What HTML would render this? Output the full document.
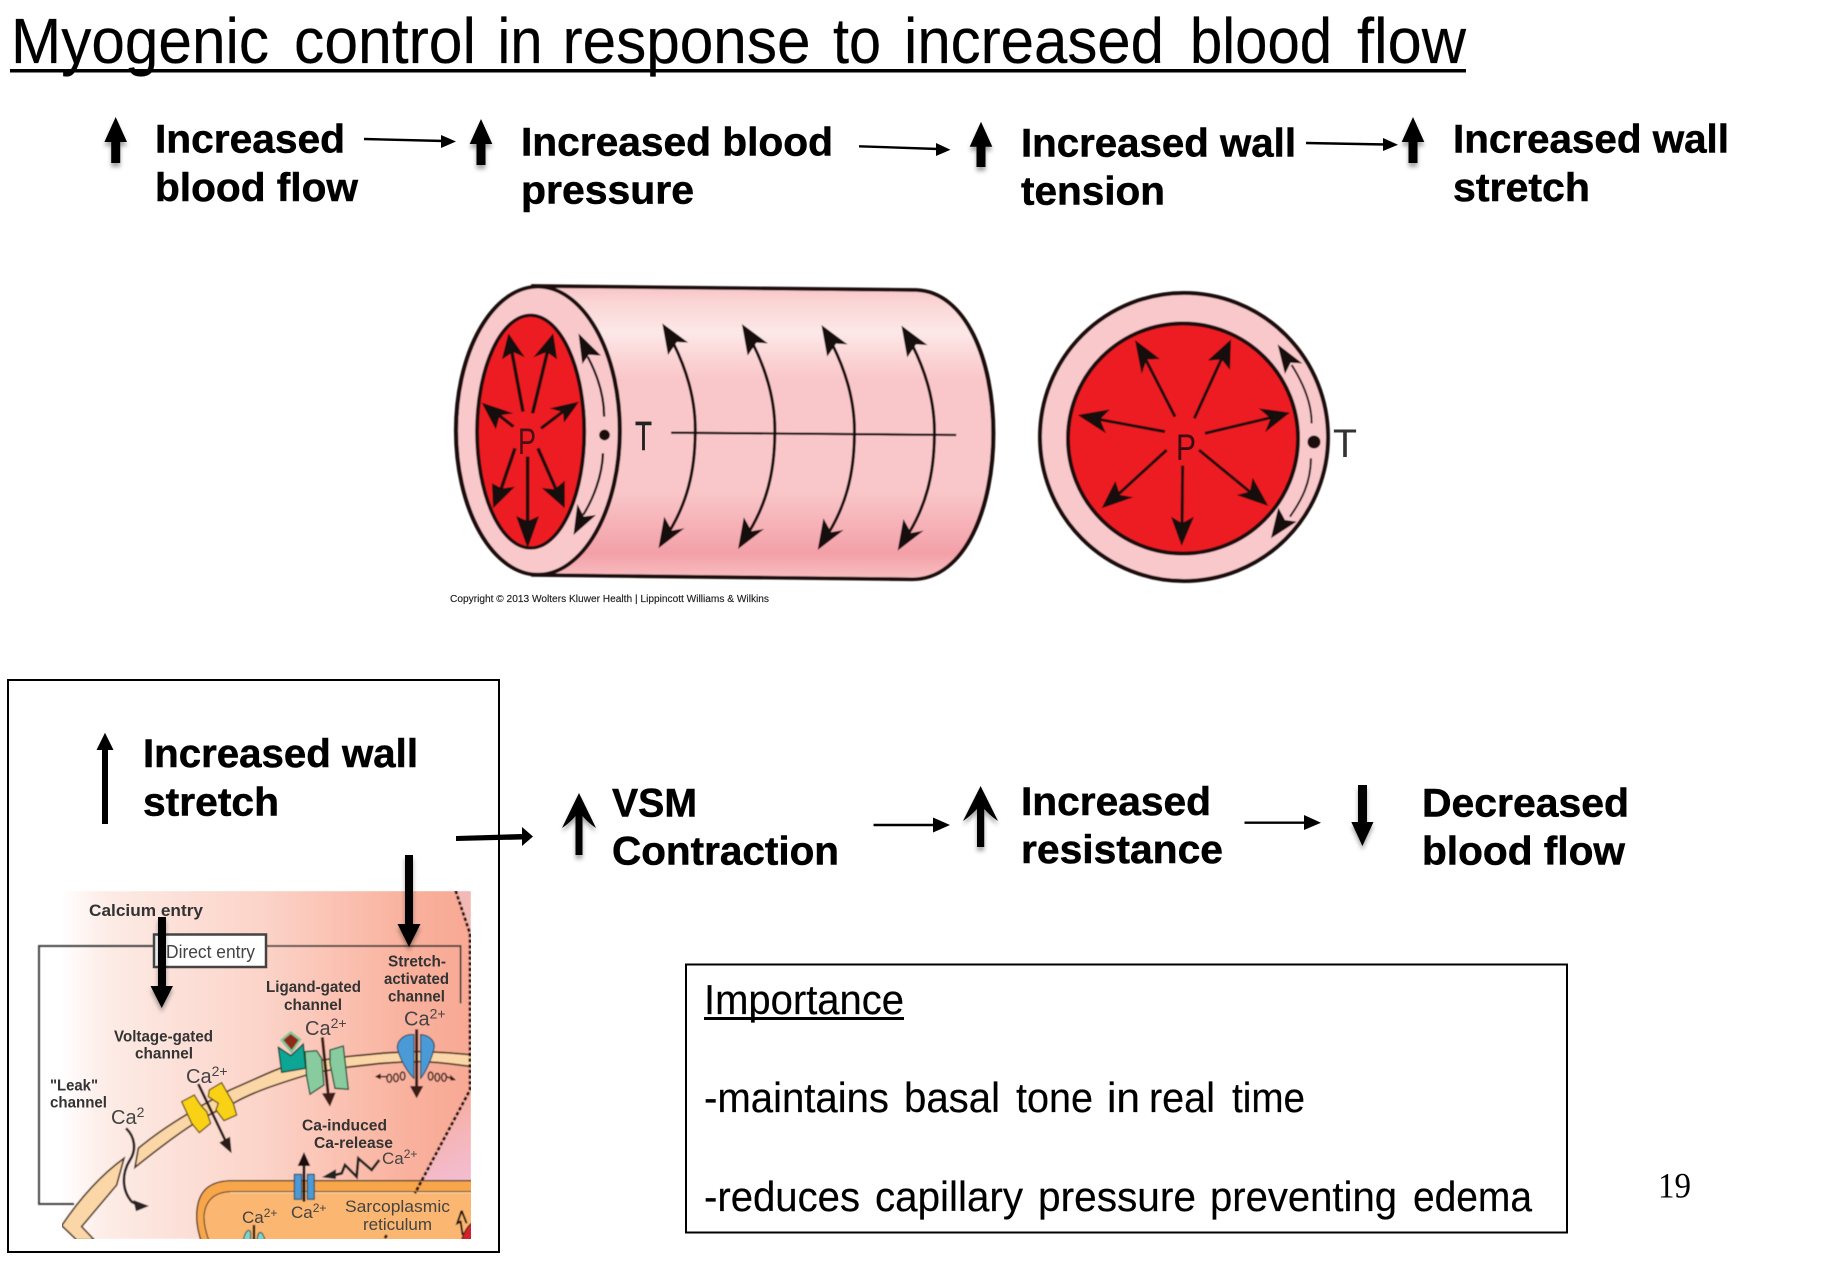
<!DOCTYPE html>
<html><head><meta charset="utf-8"><title>Myogenic control</title>
<style>
html,body{margin:0;padding:0;background:#fff;width:1822px;height:1265px;overflow:hidden}
svg{display:block}
text{font-family:"Liberation Sans",sans-serif;fill:#000}
.b{font-weight:bold;font-size:40px;stroke:#000;stroke-width:.5px}
.r{font-size:42px;stroke:#000;stroke-width:.2px}
.l{font-weight:bold;font-size:15.5px;fill:#333}
.c{font-size:20px;fill:#444}
.s{font-size:14px;fill:#444}
</style></head><body>
<svg width="1822" height="1265" viewBox="0 0 1822 1265" xmlns="http://www.w3.org/2000/svg">
<defs>
<filter id="sh" x="-60%" y="-20%" width="220%" height="150%"><feDropShadow dx="0" dy="4" stdDeviation="2" flood-color="#000" flood-opacity=".35"/></filter>
<filter id="bl" x="-5%" y="-5%" width="110%" height="110%"><feGaussianBlur stdDeviation=".55"/></filter>
<linearGradient id="bodyg" gradientUnits="userSpaceOnUse" x1="0" y1="78" x2="0" y2="958">
<stop offset="0" stop-color="#f8c4c6"/><stop offset=".06" stop-color="#fbd6d6"/><stop offset=".16" stop-color="#fde8e8"/><stop offset=".27" stop-color="#fbcfd0"/><stop offset=".32" stop-color="#f9c7c9"/><stop offset=".7" stop-color="#f9c7c9"/><stop offset=".91" stop-color="#f3a0a8"/><stop offset="1" stop-color="#f8bfc2"/>
</linearGradient>
<linearGradient id="cellg" gradientUnits="userSpaceOnUse" x1="60" y1="0" x2="470" y2="0">
<stop offset="0" stop-color="#fff"/><stop offset=".12" stop-color="#fdebe5"/><stop offset=".5" stop-color="#fcd3c8"/><stop offset=".85" stop-color="#f9b19d"/><stop offset="1" stop-color="#f8a995"/>
</linearGradient>
<linearGradient id="pinkg" gradientUnits="userSpaceOnUse" x1="1300" y1="430" x2="1400" y2="640">
<stop offset="0" stop-color="#f8aa9a"/><stop offset=".5" stop-color="#f5b5b8"/><stop offset="1" stop-color="#f3bccf"/>
</linearGradient>
<clipPath id="cellclip"><rect x="62" y="891" width="409" height="348"/></clipPath>
</defs>
<rect width="1822" height="1265" fill="#fff"/>

<!-- Title -->
<g font-size="64" transform="translate(0,1)" stroke="#000" stroke-width=".2">
<text x="11" y="62" textLength="258" lengthAdjust="spacingAndGlyphs">Myogenic</text>
<text x="294" y="62" textLength="182" lengthAdjust="spacingAndGlyphs">control</text>
<text x="497.5" y="62" textLength="45" lengthAdjust="spacingAndGlyphs">in</text>
<text x="562.5" y="62" textLength="248" lengthAdjust="spacingAndGlyphs">response</text>
<text x="833" y="62" textLength="48" lengthAdjust="spacingAndGlyphs">to</text>
<text x="904" y="62" textLength="260" lengthAdjust="spacingAndGlyphs">increased</text>
<text x="1190" y="62" textLength="142" lengthAdjust="spacingAndGlyphs">blood</text>
<text x="1357" y="62" textLength="109" lengthAdjust="spacingAndGlyphs">flow</text>
</g>
<rect x="10" y="69" width="1456" height="3.5" fill="#000"/>

<!-- Top row text -->
<text class="b" x="155" y="152.7" textLength="190" lengthAdjust="spacingAndGlyphs">Increased</text>
<text class="b" x="155" y="201" textLength="203" lengthAdjust="spacingAndGlyphs">blood flow</text>
<text class="b" x="521" y="155.3" textLength="312" lengthAdjust="spacingAndGlyphs">Increased blood</text>
<text class="b" x="521" y="203.7" textLength="173" lengthAdjust="spacingAndGlyphs">pressure</text>
<text class="b" x="1021" y="156.7" textLength="275" lengthAdjust="spacingAndGlyphs">Increased wall</text>
<text class="b" x="1021" y="204.3" textLength="144" lengthAdjust="spacingAndGlyphs">tension</text>
<text class="b" x="1453" y="152.7" textLength="276" lengthAdjust="spacingAndGlyphs">Increased wall</text>
<text class="b" x="1453" y="201" textLength="137" lengthAdjust="spacingAndGlyphs">stretch</text>

<!-- Top row arrows -->
<g fill="#000" filter="url(#sh)">
<path d="M115.7 117L127 142H120.2V163H111.2V142H104.4Z"/>
<path d="M481 119L492.3 144H485.5V165H476.5V144H469.7Z"/>
<path d="M981 121.7L992.3 146.7H985.5V167H976.5V146.7H969.7Z"/>
<path d="M1413 117L1424.3 142H1417.5V163H1408.5V142H1401.7Z"/>
</g>
<g stroke="#000" stroke-width="2.4" fill="#000">
<line x1="364" y1="139" x2="444" y2="141"/><path d="M456 141.5L441 135V148Z" stroke="none"/>
<line x1="859" y1="146.3" x2="938" y2="149"/><path d="M950.5 149.7L936 143V156Z" stroke="none"/>
<line x1="1306" y1="143" x2="1386" y2="144.5"/><path d="M1398 144.7L1383 138V151Z" stroke="none"/>
</g>

<!-- Cylinder -->
<g filter="url(#bl)">
<g transform="translate(430,260) scale(.3827,.3333)">
<path d="M270 78L1270 90C1400 95 1472 300 1472 520C1472 740 1400 958 1260 958L270 945Z" fill="url(#bodyg)" stroke="#1a1010" stroke-width="11"/>
<line x1="630" y1="518" x2="1375" y2="525" stroke="#1a1010" stroke-width="7"/>
<g id="ca" fill="none" stroke="#1a1010" stroke-width="8">
<path d="M636 250C675 340 695 430 693 520C692 640 670 730 625 815"/>
<path d="M607 190L675 248L645 246L622 285Z" fill="#140707" stroke="none"/>
<path d="M597 865L665 805L632 812L612 770Z" fill="#140707" stroke="none"/>
</g>
<use href="#ca" transform="translate(208,2)"/>
<use href="#ca" transform="translate(416,5)"/>
<use href="#ca" transform="translate(625,7)"/>
<ellipse cx="282" cy="512" rx="214" ry="432" fill="#f9c8cb" stroke="#1a1010" stroke-width="11"/>
<ellipse cx="263" cy="515" rx="140" ry="349" fill="#ed1c24" stroke="#1a1010" stroke-width="10"/>
<g fill="none" stroke="#140707" stroke-width="9">
<path d="M243 455L213 270"/><path d="M188 298L205 220L248 292L217 276Z" fill="#140707" stroke="none"/>
<path d="M268 460L308 270"/><path d="M270 292L322 220L332 298L305 276Z" fill="#140707" stroke="none"/>
<path d="M290 505L355 448"/><path d="M312 445L390 425L350 488L348 456Z" fill="#140707" stroke="none"/>
<path d="M218 500L165 452"/><path d="M135 428L218 460L182 466L172 508Z" fill="#140707" stroke="none"/>
<path d="M222 565L185 690"/><path d="M165 745L162 670L188 686L222 680Z" fill="#140707" stroke="none"/>
<path d="M255 590L255 810"/><path d="M255 865L225 768L255 784L285 768Z" fill="#140707" stroke="none"/>
<path d="M282 565L330 690"/><path d="M352 745L292 684L326 688L352 662Z" fill="#140707" stroke="none"/>
<path d="M412 290C435 340 455 400 455 470M452 580C450 650 425 720 400 765" stroke-width="6"/>
<path d="M388 220L447 287L415 284L398 312Z" fill="#140707" stroke="none"/>
<path d="M375 825L434 765L402 770L385 732Z" fill="#140707" stroke="none"/>
</g>
<ellipse cx="456" cy="525" rx="14" ry="16" fill="#1a1010"/>
</g>
</g>
<text x="518" y="454" font-size="37" style="fill:#4a1015" textLength="18" lengthAdjust="spacingAndGlyphs">P</text>
<text x="635" y="450" font-size="41" style="fill:#222;stroke:#222;stroke-width:.5px" textLength="17" lengthAdjust="spacingAndGlyphs">T</text>
<text x="450" y="602" font-size="10" style="fill:#222;stroke:#222;stroke-width:.15px" textLength="319" lengthAdjust="spacingAndGlyphs">Copyright © 2013 Wolters Kluwer Health | Lippincott Williams &amp; Wilkins</text>

<!-- Circle -->
<g filter="url(#bl)">
<circle cx="1184" cy="437" r="144" fill="#f9c8cb" stroke="#1a1010" stroke-width="4"/>
<circle cx="1183" cy="438.5" r="115" fill="#ed1c24" stroke="#1a1010" stroke-width="4"/>
<g transform="translate(1000,260) scale(.3333)" stroke="#140707" stroke-width="9" fill="#140707">
<line x1="525" y1="470" x2="430" y2="285"/><path d="M405 240L480 297L440 298L425 342Z" stroke="none"/>
<line x1="583" y1="475" x2="670" y2="285"/><path d="M693 238L690 330L665 298L623 302Z" stroke="none"/>
<line x1="615" y1="520" x2="825" y2="470"/><path d="M870 458L795 517L812 475L776 445Z" stroke="none"/>
<line x1="495" y1="515" x2="280" y2="475"/><path d="M233 465L330 448L300 478L318 520Z" stroke="none"/>
<line x1="500" y1="570" x2="345" y2="712"/><path d="M305 745L346 663L360 705L400 712Z" stroke="none"/>
<line x1="548" y1="617" x2="546" y2="810"/><path d="M545 858L513 770L546 790L582 770Z" stroke="none"/>
<line x1="597" y1="570" x2="765" y2="708"/><path d="M805 738L710 705L750 695L758 653Z" stroke="none"/>
<path d="M875 315C910 370 935 430 935 490M933 595C932 670 905 720 870 770" fill="none" stroke-width="6"/>
<path d="M833 253L907 310L872 308L855 342Z" stroke="none"/>
<path d="M813 835L890 785L855 780L835 743Z" stroke="none"/>
</g>
<circle cx="1314" cy="442" r="6.5" fill="#1a1010"/>
</g>
<text x="1176" y="460" font-size="37" style="fill:#3a0a10" textLength="20" lengthAdjust="spacingAndGlyphs">P</text>
<text x="1333" y="457" font-size="40" style="fill:#333" textLength="24" lengthAdjust="spacingAndGlyphs">T</text>

<!-- Lower-left box -->
<rect x="8" y="680" width="491" height="572" fill="none" stroke="#000" stroke-width="2"/>
<path d="M105 732.7L113.5 750H108V824H102V750H96.5Z" fill="#000"/>
<text class="b" x="143" y="767" textLength="275" lengthAdjust="spacingAndGlyphs">Increased wall</text>
<text class="b" x="143" y="815.7" textLength="136" lengthAdjust="spacingAndGlyphs">stretch</text>

<!-- Cell illustration -->
<g clip-path="url(#cellclip)">
<g filter="url(#bl)">
<rect x="62" y="891" width="409" height="348" fill="url(#cellg)"/>
<path d="M456 891L471 891V933Z" fill="#f3b9b5"/>
<g transform="translate(0,960) scale(.3333)">
<path d="M1245 700L1412 390V700Z" fill="url(#pinkg)"/>
<!-- membrane -->
<path d="M415 565C480 510 560 460 690 390C760 360 800 340 840 325C920 305 1000 295 1040 290C1120 282 1180 275 1260 275C1320 275 1370 280 1420 285V320C1370 315 1320 305 1260 305C1180 305 1120 312 1040 322C1000 328 960 335 920 345C840 370 760 395 700 430C620 465 570 490 405 622Z" fill="#fbd6a6" stroke="#4a3020" stroke-width="5"/>
<path d="M372 595C310 640 250 700 185 797L230 840H283L245 800L350 675Z" fill="#fbd6a6" stroke="#4a3020" stroke-width="5"/>
<!-- Yellow channel -->
<path d="M545 425L583 405L595 425L606 440L620 455L632 490L598 518L575 490Z" fill="#f9d215" stroke="#6a5210" stroke-width="4"/>
<path d="M628 390L665 368L700 430L710 465L672 482L648 450L655 430L625 410Z" fill="#f9d215" stroke="#6a5210" stroke-width="4"/>
<line x1="595" y1="372" x2="685" y2="560" stroke="#2a1a14" stroke-width="8"/>
<path d="M695 580L658 548L690 530Z" fill="#2a1a14"/>
<!-- Ligand -->
<path d="M835 262L873 287L910 252L917 325L845 337Z" fill="#10a594" stroke="#153f38" stroke-width="4"/>
<path d="M872 213L905 238L875 282L840 240Z" fill="#86c59a"/>
<path d="M872 222L896 240L875 270L850 240Z" fill="#8c2a18"/>
<path d="M915 275L950 272L965 295L972 375L930 403L920 350Z" fill="#87cb9e" stroke="#1f4d35" stroke-width="4"/>
<path d="M990 270L1030 258L1045 388L1005 385L990 310Z" fill="#87cb9e" stroke="#1f4d35" stroke-width="4"/>
<line x1="967" y1="232" x2="985" y2="405" stroke="#3a1c14" stroke-width="9"/>
<path d="M990 440L966 400L1007 398Z" fill="#3a1c14"/>
<!-- Blue stretch channel -->
<path d="M1242 224C1210 220 1190 245 1192 265C1200 300 1225 340 1242 355Z" fill="#4a9ad6" stroke="#1e3a50" stroke-width="3"/>
<path d="M1262 224C1290 225 1305 245 1303 262C1295 300 1275 340 1262 355Z" fill="#4a9ad6" stroke="#1e3a50" stroke-width="3"/>
<line x1="1250" y1="208" x2="1250" y2="385" stroke="#3a1c14" stroke-width="9"/>
<path d="M1250 415L1230 378L1270 378Z" fill="#3a1c14"/>
<g fill="none" stroke="#3a1c14" stroke-width="4.5">
<path d="M1130 350H1160"/><ellipse cx="1168" cy="355" rx="7" ry="12"/><ellipse cx="1188" cy="353" rx="7" ry="12"/><ellipse cx="1208" cy="348" rx="7" ry="12"/>
<ellipse cx="1292" cy="348" rx="7" ry="12"/><ellipse cx="1312" cy="352" rx="7" ry="12"/><ellipse cx="1332" cy="352" rx="7" ry="12"/><path d="M1340 350L1365 360"/>
</g>
<path d="M1125 350L1142 340V358ZM1368 360L1350 344L1352 362Z" fill="#3a1c14"/>
<!-- Leak arrow -->
<path d="M378 505C405 530 410 570 390 600C365 640 365 690 395 725L420 738" fill="none" stroke="#2a2020" stroke-width="8"/>
<path d="M447 738L400 720L408 754Z" fill="#2a2020"/>
<!-- SR -->
<path d="M1420 662H690C620 665 590 700 590 770C590 800 598 825 605 850H1420Z" fill="#f7a64a" stroke="#3a2a20" stroke-width="4"/>
<path d="M1420 695H690C640 697 615 725 612 770C612 800 620 825 630 850H1420Z" fill="#fbb771" stroke="#3a2a20" stroke-width="3"/>
<path d="M1420 698H690" stroke="#fff" stroke-width="3" opacity=".5"/>
<rect x="883" y="643" width="22" height="75" fill="#4a9ad6" stroke="#1e3a50" stroke-width="3"/>
<rect x="922" y="643" width="21" height="75" fill="#4a9ad6" stroke="#1e3a50" stroke-width="3"/>
<line x1="912" y1="725" x2="912" y2="610" stroke="#1a1010" stroke-width="8"/>
<path d="M912 576L893 618H931Z" fill="#1a1010"/>
<path d="M1138 600L1115 630L1075 595L1070 650L1035 615L1025 640L985 650" fill="none" stroke="#222" stroke-width="8"/>
<path d="M966 652L1008 628L1008 657Z" fill="#222"/>
<!-- bottom teal -->
<path d="M730 840C735 815 745 805 752 815V840ZM772 840C772 815 785 805 795 840Z" fill="#7fd4c8" stroke="#1e3a38" stroke-width="3"/>
<line x1="762" y1="795" x2="762" y2="840" stroke="#1a1010" stroke-width="7"/>
<!-- red -->
<path d="M1420 785C1400 800 1390 820 1385 840H1420Z" fill="#d0202a" stroke="#2a1010" stroke-width="3"/>
<path d="M1385 752L1372 790L1382 785L1388 825M1385 752L1400 790" fill="none" stroke="#1a1010" stroke-width="6"/>
<!-- dotted -->
<path d="M1367 -208L1410 -80V390L1245 700M1160 825L1150 845" fill="none" stroke="#241010" stroke-width="8.5" stroke-dasharray="11 6"/>
<!-- right frame -->
<path d="M797 -42H1382V130" fill="none" stroke="#333" stroke-width="5"/>
</g>
</g>
</g>
<!-- left frame, extends outside the gradient -->
<g filter="url(#bl)">
<path d="M154 946H39V1204H74" fill="none" stroke="#444" stroke-width="2"/>
</g>
<rect x="154" y="934.5" width="112" height="32.5" fill="#fff" stroke="#444" stroke-width="2.5"/>
<text x="166" y="958" font-size="18" style="fill:#444" textLength="89" lengthAdjust="spacingAndGlyphs">Direct entry</text>
<text class="l" x="89" y="916" style="font-size:17px" textLength="114" lengthAdjust="spacingAndGlyphs">Calcium entry</text>
<text class="l" x="388" y="966.7" textLength="58" lengthAdjust="spacingAndGlyphs">Stretch-</text>
<text class="l" x="384" y="984" textLength="65" lengthAdjust="spacingAndGlyphs">activated</text>
<text class="l" x="388" y="1001.7" textLength="57" lengthAdjust="spacingAndGlyphs">channel</text>
<text class="l" x="266" y="992" textLength="95" lengthAdjust="spacingAndGlyphs">Ligand-gated</text>
<text class="l" x="284" y="1010" textLength="58" lengthAdjust="spacingAndGlyphs">channel</text>
<text class="l" x="114" y="1041.7" textLength="99" lengthAdjust="spacingAndGlyphs">Voltage-gated</text>
<text class="l" x="135" y="1058.7" textLength="58" lengthAdjust="spacingAndGlyphs">channel</text>
<text class="l" x="50" y="1090.7" textLength="48" lengthAdjust="spacingAndGlyphs">"Leak"</text>
<text class="l" x="50" y="1107.7" textLength="57" lengthAdjust="spacingAndGlyphs">channel</text>
<text class="l" x="302" y="1130.7" textLength="85" lengthAdjust="spacingAndGlyphs">Ca-induced</text>
<text class="l" x="314" y="1148" textLength="79" lengthAdjust="spacingAndGlyphs">Ca-release</text>
<text class="c" x="111" y="1124">Ca<tspan class="s" dy="-7">2</tspan></text>
<text class="c" x="186" y="1083">Ca<tspan class="s" dy="-7">2+</tspan></text>
<text class="c" x="305" y="1035">Ca<tspan class="s" dy="-7">2+</tspan></text>
<text class="c" x="404" y="1025.7">Ca<tspan class="s" dy="-7">2+</tspan></text>
<text x="382" y="1164" font-size="17" style="fill:#444">Ca<tspan class="s" dy="-6" style="font-size:12px">2+</tspan></text>
<text x="242" y="1223" font-size="17" style="fill:#444">Ca<tspan class="s" dy="-6" style="font-size:12px">2+</tspan></text>
<text x="291" y="1218" font-size="17" style="fill:#444">Ca<tspan class="s" dy="-6" style="font-size:12px">2+</tspan></text>
<text x="345" y="1212" font-size="17" style="fill:#444" textLength="105" lengthAdjust="spacingAndGlyphs">Sarcoplasmic</text>
<text x="363" y="1230" font-size="17" style="fill:#444" textLength="69" lengthAdjust="spacingAndGlyphs">reticulum</text>

<!-- thick arrows over image -->
<g fill="#000" filter="url(#sh)">
<path d="M405 855H413V924H420.5L409 947L397.5 924H405Z"/>
<path d="M158 917H166V986H173L161.7 1008L150.5 986H158Z"/>
</g>
<path d="M456 836L522 834V827L533 836.5L522 846V839.5L456 841Z" fill="#000"/>

<!-- Second-row chain -->
<g fill="#000" filter="url(#sh)">
<path d="M579 793L596 828C590 824 586 820 582.5 816V855H575.5V816C572 820 568 824 562 828Z"/>
<path d="M980.6 786L998 821C992 817 988 813 984.2 809V847H977V809C973 813 969 817 963 821Z"/>
<path d="M1358 785H1367V822H1373.5L1362.4 846L1351.3 822H1358Z"/>
</g>
<g stroke="#000" stroke-width="2.4" fill="#000">
<line x1="873.5" y1="825" x2="938" y2="825"/><path d="M950 825L933 817.5V832.5Z" stroke="none"/>
<line x1="1244.5" y1="822.7" x2="1308" y2="822.7"/><path d="M1321 822.7L1304 815V830Z" stroke="none"/>
</g>
<text class="b" x="612" y="816.7" textLength="85" lengthAdjust="spacingAndGlyphs">VSM</text>
<text class="b" x="612" y="864.3" textLength="227" lengthAdjust="spacingAndGlyphs">Contraction</text>
<text class="b" x="1021" y="815" textLength="190" lengthAdjust="spacingAndGlyphs">Increased</text>
<text class="b" x="1021" y="863" textLength="202" lengthAdjust="spacingAndGlyphs">resistance</text>
<text class="b" x="1422" y="816.7" textLength="207" lengthAdjust="spacingAndGlyphs">Decreased</text>
<text class="b" x="1422" y="864.3" textLength="203" lengthAdjust="spacingAndGlyphs">blood flow</text>

<!-- Importance box -->
<rect x="686" y="964.5" width="881" height="268" fill="none" stroke="#000" stroke-width="2"/>
<text class="r" x="704" y="1014" textLength="200" lengthAdjust="spacingAndGlyphs">Importance</text>
<rect x="704" y="1017" width="200" height="3" fill="#000"/>
<g>
<text class="r" x="704" y="1112" textLength="185" lengthAdjust="spacingAndGlyphs">-maintains</text>
<text class="r" x="904" y="1112" textLength="96" lengthAdjust="spacingAndGlyphs">basal</text>
<text class="r" x="1016" y="1112" textLength="77" lengthAdjust="spacingAndGlyphs">tone</text>
<text class="r" x="1107" y="1112" textLength="33" lengthAdjust="spacingAndGlyphs">in</text>
<text class="r" x="1149" y="1112" textLength="66" lengthAdjust="spacingAndGlyphs">real</text>
<text class="r" x="1232" y="1112" textLength="73" lengthAdjust="spacingAndGlyphs">time</text>
<text class="r" x="704" y="1211" textLength="156" lengthAdjust="spacingAndGlyphs">-reduces</text>
<text class="r" x="875" y="1211" textLength="148" lengthAdjust="spacingAndGlyphs">capillary</text>
<text class="r" x="1038" y="1211" textLength="158" lengthAdjust="spacingAndGlyphs">pressure</text>
<text class="r" x="1210" y="1211" textLength="187" lengthAdjust="spacingAndGlyphs">preventing</text>
<text class="r" x="1413" y="1211" textLength="119" lengthAdjust="spacingAndGlyphs">edema</text>
</g>
<text x="1658" y="1197.7" font-size="36" style="font-family:'Liberation Serif',serif" textLength="33" lengthAdjust="spacingAndGlyphs">19</text>
</svg>
</body></html>
